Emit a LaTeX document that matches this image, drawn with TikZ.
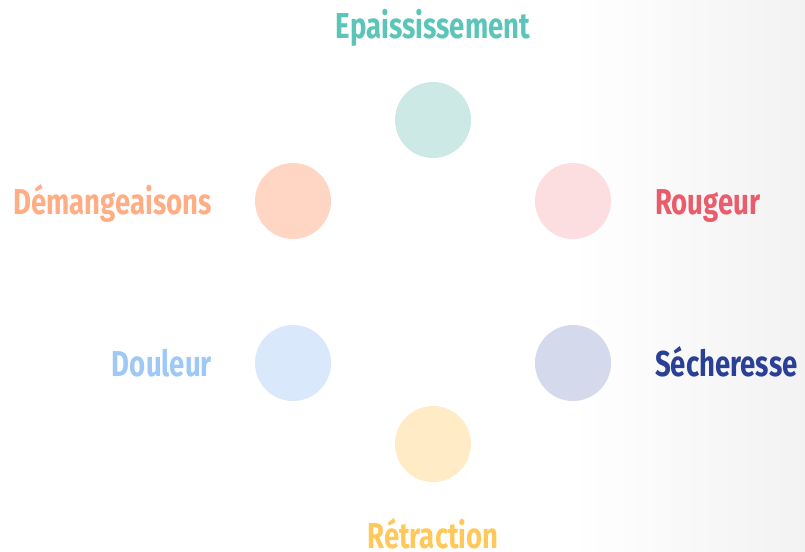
\documentclass[tikz,border=0pt]{standalone}
\usepackage{fontspec}
\setmainfont[FakeStretch=0.765]{Fira Sans}
\definecolor{tealtxt}{HTML}{5BC5BA}
\definecolor{tealdot}{HTML}{CDE9E6}
\definecolor{peachtxt}{HTML}{FFAD85}
\definecolor{peachdot}{HTML}{FFD5C3}
\definecolor{redtxt}{HTML}{EB5C6B}
\definecolor{reddot}{HTML}{FCDEE1}
\definecolor{bluetxt}{HTML}{9EC8F5}
\definecolor{bluedot}{HTML}{D9E8FA}
\definecolor{navytxt}{HTML}{2A3F96}
\definecolor{navydot}{HTML}{D5D9EC}
\definecolor{yellowtxt}{HTML}{FFC85A}
\definecolor{yellowdot}{HTML}{FFEBC6}
\begin{document}
\begin{tikzpicture}[x=1pt, y=-1pt,
  dot/.style = {circle, minimum size=76pt, inner sep=0pt},
  word/.style = {inner sep=0pt, font=\fontsize{36}{40}\selectfont\bfseries}]
\useasboundingbox (0,0) rectangle (805,551);
\shade[left color=white, right color=black!5] (570,0) rectangle (805,551);
% dots
\node[dot, fill=tealdot] (1) at (433,120) {};
\node[dot, fill=peachdot] (2) at (293,201) {};
\node[dot, fill=reddot] (3) at (573,201) {};
\node[dot, fill=bluedot] (4) at (293,363) {};
\node[dot, fill=navydot] (5) at (573,363) {};
\node[dot, fill=yellowdot] (6) at (433,444) {};
% labels
\node[word, text=tealtxt, anchor=base] (l1) at (433,38) {Epaississement};
\node[word, text=peachtxt, anchor=base east] (l2) at (212,214) {Démangeaisons};
\node[word, text=redtxt, anchor=base west] (l3) at (655,214) {Rougeur};
\node[word, text=bluetxt, anchor=base east] (l4) at (212,376) {Douleur};
\node[word, text=navytxt, anchor=base west] (l5) at (655,376) {Sécheresse};
\node[word, text=yellowtxt, anchor=base] (l6) at (433,548) {Rétraction};
\end{tikzpicture}
\end{document}
